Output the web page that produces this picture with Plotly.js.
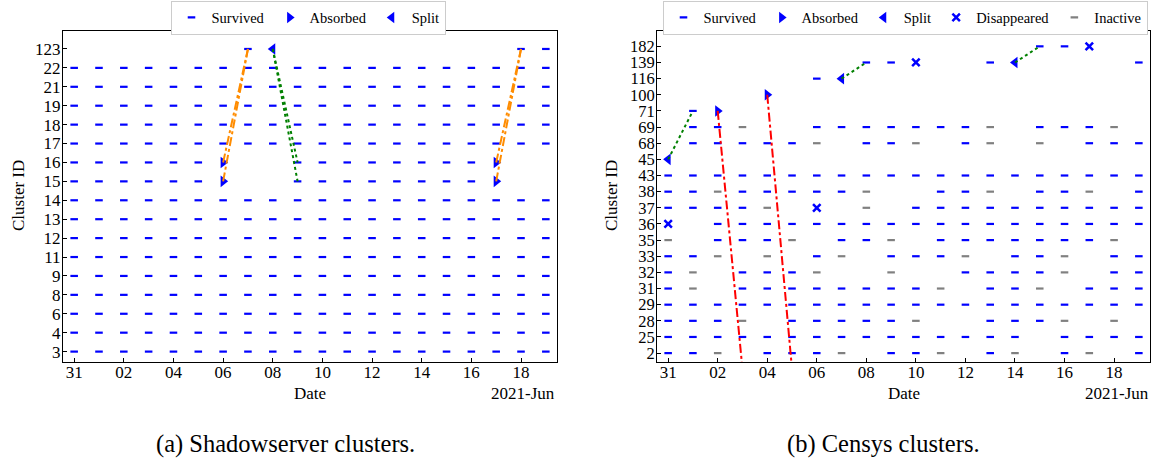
<!DOCTYPE html>
<html>
<head>
<meta charset="utf-8">
<script src="https://cdn.plot.ly/plotly-3.0.1.min.js"></script>
<style>
  html, body { margin: 0; padding: 0; background: #ffffff; }
  #chart { width: 1156px; height: 461px; }
</style>
</head>
<body>
<div id="chart"></div>
<script>
// ---------- data ----------
// one column per day, May 31 .. Jun 19 2021
const dates = ['2021-05-31','2021-06-01','2021-06-02','2021-06-03','2021-06-04','2021-06-05',
  '2021-06-06','2021-06-07','2021-06-08','2021-06-09','2021-06-10','2021-06-11','2021-06-12',
  '2021-06-13','2021-06-14','2021-06-15','2021-06-16','2021-06-17','2021-06-18','2021-06-19'];

// status codes per day: S survived, I inactive, A absorbed, P split, X disappeared, . none
const shadowClusters = ['3','4','6','8','9','11','12','13','14','15','16','17','18','19','21','22','123'];
const shadowStatus = [
  'SSSSSSSSSSSSSSSSSSSS', // 3
  'SSSSSSSSSSSSSSSSSSSS', // 4
  'SSSSSSSSSSSSSSSSSSSS', // 6
  'SSSSSSSSSSSSSSSSSSSS', // 8
  'SSSSSSSSSSSSSSSSSSSS', // 9
  'SSSSSSSSSSSSSSSSSSSS', // 11
  'SSSSSSSSSSSSSSSSSSSS', // 12
  'SSSSSSSSSSSSSSSSSSSS', // 13
  'SSSSSSSSSSSSSSSSSSSS', // 14
  'SSSSSSA..SSSSSSSSA..', // 15
  'SSSSSSA..SSSSSSSSA..', // 16
  'SSSSSSSSSSSSSSSSSSSS', // 17
  'SSSSSSSSSSSSSSSSSSSS', // 18
  'SSSSSSSSSSSSSSSSSSSS', // 19
  'SSSSSSSSSSSSSSSSSSSS', // 21
  'SSSSSSSSSSSSSSSSSSSS', // 22
  '.......SP.........SS'  // 123
];
// transitions: [date, cluster] -> [date, cluster]
const shadowAbsorbFrom = [['2021-06-06','15'],['2021-06-06','16'],['2021-06-17','15'],['2021-06-17','16']];
const shadowAbsorbTo   = [['2021-06-07','123'],['2021-06-07','123'],['2021-06-18','123'],['2021-06-18','123']];
const shadowSplitFrom  = [['2021-06-08','123'],['2021-06-08','123']];
const shadowSplitTo    = [['2021-06-09','15'],['2021-06-09','16']];

const censysClusters = ['2','25','28','29','31','32','33','35','36','37','38','43','45','68','69','71','100','116','139','182'];
const censysHiddenClusters = ['1']; // absorbing cluster below the visible axis range
const censysStatus = [
  'SSI.SSSI.SSI.SI.SI.S', // 2
  'SSSSSSSSSSSSSSS.SSSS', // 25
  'SSSI.SSSSSI..SSSI.I.', // 28
  'SSSSSSSSSSSSSSSSSSSS', // 29
  'SI.SSSSSSSSI.SSI.SSS', // 31
  'SI.SSSI..I..SSSSI.SS', // 32
  'SSI.I.SI.SSSI.SSI.SS', // 33
  'I.SSSI.SSI.SSSSSSSI.', // 35
  'X.SSSSSSSSSSSSSSSSSS', // 36
  'SSSSI.X.I.SSSSSSSSSS', // 37
  'SSISSSSSI..SSI.SSI.S', // 38
  'SSSSSSSSSSSSSSSSSSSS', // 43
  'P...................', // 45
  '.SSSSSI.SSI.SI.I.SSS', // 68
  '.SSI..SSSSSSSI.SSSI.', // 69
  '.SA.................', // 71
  '....A...............', // 100
  '......SP............', // 116
  '........SSX..SP....S', // 139
  '...............SSX..'  // 182
];
const censysAbsorbFrom = [['2021-06-02','71'],['2021-06-04','100']];
const censysAbsorbTo   = [['2021-06-03','1'],['2021-06-05','1']];
const censysSplitFrom  = [['2021-05-31','45'],['2021-06-07','116'],['2021-06-14','139']];
const censysSplitTo    = [['2021-06-01','71'],['2021-06-08','139'],['2021-06-15','182']];

// ---------- styles ----------
const FONT = "'Liberation Serif', 'Times New Roman', serif";
const BLUE = '#0000ff';
const GRAY = '#808080';

const kinds = [
  {code: 'S', name: 'Survived', symbol: 'line-ew', size: 5.4, color: BLUE, lw: 2.2},
  {code: 'A', name: 'Absorbed', symbol: 'triangle-right', size: 10, color: BLUE, lw: 0},
  {code: 'P', name: 'Split', symbol: 'triangle-left', size: 10, color: BLUE, lw: 0},
  {code: 'X', name: 'Disappeared', symbol: 'x-thin', size: 7.5, color: BLUE, lw: 2.5},
  {code: 'I', name: 'Inactive', symbol: 'line-ew', size: 5.4, color: GRAY, lw: 2.2}
];

function statusTraces(clusters, statuses, xa, ya, legendId) {
  const out = [];
  kinds.forEach(k => {
    const xs = [], ys = [];
    statuses.forEach((row, r) => {
      for (let d = 0; d < row.length; d++) {
        if (row[d] === k.code) { xs.push(dates[d]); ys.push(clusters[r]); }
      }
    });
    if (!xs.length) return;
    out.push({
      type: 'scatter', mode: 'markers', x: xs, y: ys, xaxis: xa, yaxis: ya,
      name: k.name, legend: legendId, hoverinfo: 'skip',
      marker: {symbol: k.symbol, size: k.size, color: k.color,
               line: {color: k.color, width: k.lw}}
    });
  });
  return out;
}

function linkTrace(from, to, xa, ya, color, dash) {
  const xs = [], ys = [];
  from.forEach((f, i) => {
    xs.push(f[0], to[i][0], null);
    ys.push(f[1], to[i][1], null);
  });
  return {type: 'scatter', mode: 'lines', x: xs, y: ys, xaxis: xa, yaxis: ya,
          showlegend: false, hoverinfo: 'skip', connectgaps: false,
          line: {color: color, width: 2, dash: dash}};
}

const traces = [].concat(
  statusTraces(shadowClusters, shadowStatus, 'x', 'y', 'legend'),
  statusTraces(censysClusters, censysStatus, 'x2', 'y2', 'legend2'),
  [
    linkTrace(shadowAbsorbFrom, shadowAbsorbTo, 'x', 'y', '#ff8c00', 'dashdot'),
    linkTrace(shadowSplitFrom, shadowSplitTo, 'x', 'y', '#008000', 'dot'),
    linkTrace(censysAbsorbFrom, censysAbsorbTo, 'x2', 'y2', '#ff0000', 'dashdot'),
    linkTrace(censysSplitFrom, censysSplitTo, 'x2', 'y2', '#008000', 'dot')
  ]
);

// ---------- layout ----------
const W = 1156, H = 461;
const px = v => v / W;
const py = v => (H - v) / H;

const xRange = ['2021-05-30 13:12', '2021-06-19 10:48'];
function xAxis(domain, anchor) {
  return {
    type: 'date', domain: domain, anchor: anchor, range: xRange,
    tick0: '2021-05-31', dtick: 2 * 86400000, tickformat: '%d',
    ticks: 'inside', ticklen: 4, tickwidth: 1, tickcolor: '#000',
    ticklabelstandoff: -5,
    showline: true, linecolor: '#000', linewidth: 1, mirror: true,
    showgrid: false, zeroline: false,
    tickfont: {family: FONT, size: 17, color: '#000'}
  };
}
function yAxis(domain, anchor, visible, hidden, fontSize) {
  const cats = hidden.concat(visible);
  const h = hidden.length, n = visible.length;
  return {
    type: 'category', categoryorder: 'array', categoryarray: cats,
    tickmode: 'array', tickvals: visible, ticktext: visible,
    domain: domain, anchor: anchor,
    range: [h - 0.55, h + n - 1 + 0.95],
    ticks: 'inside', ticklen: 4, tickwidth: 1, tickcolor: '#000',
    ticklabelstandoff: -2,
    showline: true, linecolor: '#000', linewidth: 1, mirror: true,
    showgrid: false, zeroline: false,
    tickfont: {family: FONT, size: fontSize, color: '#000'}
  };
}

const yDom = [py(362), py(31)];
const legendCommon = {
  orientation: 'h', xanchor: 'center', yanchor: 'top',
  bgcolor: '#ffffff', bordercolor: '#cccccc', borderwidth: 1,
  font: {family: FONT, size: 14.5, color: '#000'}, itemwidth: 30
};

const ann = (text, x, y, opts) => Object.assign({
  text: text, x: x, y: y, xref: 'paper', yref: 'paper', showarrow: false,
  xanchor: 'center', yanchor: 'middle',
  font: {family: FONT, size: 17, color: '#000'}
}, opts || {});

const layout = {
  width: W, height: H,
  margin: {l: 0, r: 0, t: 0, b: 0},
  paper_bgcolor: '#ffffff', plot_bgcolor: '#ffffff',
  showlegend: true,
  xaxis: xAxis([px(63), px(557)], 'y'),
  yaxis: yAxis(yDom, 'x', shadowClusters, [], 17),
  xaxis2: xAxis([px(657), px(1150)], 'y2'),
  yaxis2: yAxis(yDom, 'x2', censysClusters, censysHiddenClusters, 16.5),
  legend: Object.assign({x: px(308), y: py(0.5)}, legendCommon),
  legend2: Object.assign({x: px(905), y: py(0.5)}, legendCommon),
  annotations: [
    ann('Cluster ID', px(18), py(196), {textangle: -90}),
    ann('Cluster ID', px(611), py(196), {textangle: -90}),
    ann('Date', px(310), py(393)),
    ann('Date', px(904), py(393)),
    ann('2021-Jun', px(557), py(393), {xanchor: 'right'}),
    ann('2021-Jun', px(1151), py(393), {xanchor: 'right'}),
    ann('(a) Shadowserver clusters.', px(285), py(444), {font: {family: FONT, size: 24.5, color: '#000'}}),
    ann('(b) Censys clusters.', px(883), py(444), {font: {family: FONT, size: 24.5, color: '#000'}})
  ]
};

Plotly.newPlot('chart', traces, layout, {displayModeBar: false, staticPlot: true});
</script>
</body>
</html>
